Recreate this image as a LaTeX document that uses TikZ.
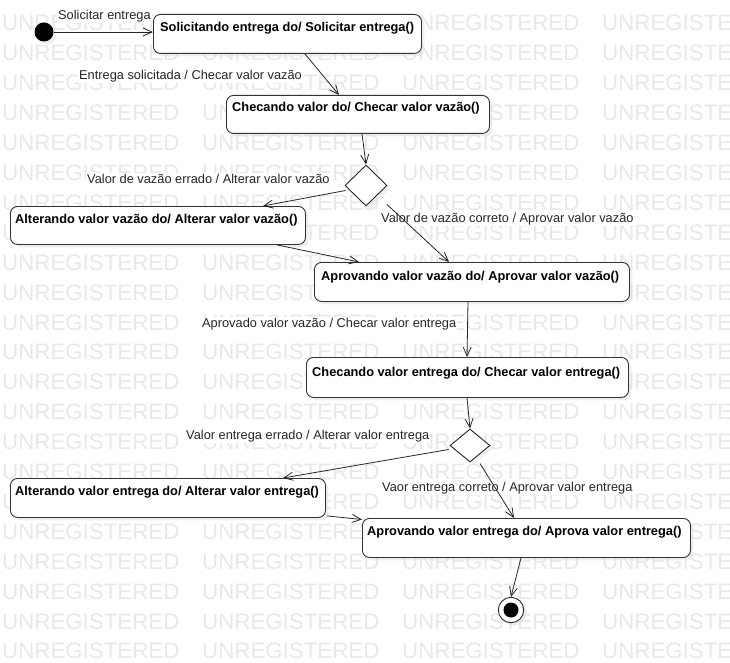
\documentclass[tikz,border=0pt]{standalone}
\usepackage{fontspec}
\setmainfont{Liberation Sans}
\usetikzlibrary{arrows.meta,shapes.geometric,shadows}
\begin{document}
\begin{tikzpicture}[x=1pt,y=-1pt,
  wm/.style={anchor=base west, inner sep=0, text=black!9, font=\fontsize{22.3}{24}\selectfont},
  shade/.style={drop shadow={shadow xshift=3pt, shadow yshift=-3pt, fill=black!13}},
  statebox/.style={draw=black!80, line width=0.9pt, fill=white, rounded corners=7pt,
    anchor=north west, inner sep=0, shade},
  stname/.style={anchor=base west, inner sep=0, font=\fontsize{12.8}{15}\selectfont\bfseries},
  choice/.style={diamond, draw=black!85, line width=0.9pt, fill=white, inner sep=0, shade},
  trig/.style={anchor=base west, fill=white, inner sep=1pt,
    font=\fontsize{12.8}{15}\selectfont, text=black!85},
  flow/.style={draw=black!85, line width=0.8pt, -{Straight Barb[length=9pt,width=8pt]}},
]
\useasboundingbox (0,0) rectangle (730,663);

% background watermark rows
\begin{scope}
  \clip (0,0) rectangle (730,663);
  \foreach \r in {0,...,21}
    \foreach \c in {0,...,3}
      \node[wm] (wm-\r-\c) at ({2+200*\c},{31+29.9*\r}) {UNREGISTERED};
\end{scope}

% transition labels
\node[trig] (l0)  at (57,19.3)   {Solicitar entrega};
\node[trig] (l1)  at (78,79.5)   {Entrega solicitada / Checar valor vazão};
\node[trig] (l3)  at (86,183.3)  {Valor de vazão errado / Alterar valor vazão};
\node[trig] (l5)  at (380,222.3) {Valor de vazão correto / Aprovar valor vazão};
\node[trig] (l6)  at (201,327.5) {Aprovado valor vazão / Checar valor entrega};
\node[trig] (l8)  at (185,439)   {Valor entrega errado / Alterar valor entrega};
\node[trig] (l10) at (381,491)   {Vaor entrega correto / Aprovar valor entrega};

% pseudo states
\node[circle, fill=black, minimum size=19, inner sep=0, shade] (init) at (44,32) {};
\node[circle, draw=black!85, line width=0.9pt, fill=white, minimum size=25.4, inner sep=0, shade] (fin) at (511,610) {};
\node[circle, fill=black, minimum size=15, inner sep=0] (findot) at (fin.center) {};

% decision points
\node[choice, minimum width=42, minimum height=41] (d1) at (366,185.5) {};
\node[choice, minimum width=40, minimum height=33] (d2) at (470,445.5) {};

% states
\node[statebox, minimum width=268, minimum height=39] (s1) at (153,14)  {};
\node[statebox, minimum width=263, minimum height=38] (s2) at (226,95)  {};
\node[statebox, minimum width=295, minimum height=38] (s3) at (10,206)  {};
\node[statebox, minimum width=315, minimum height=39] (s4) at (314,262) {};
\node[statebox, minimum width=322, minimum height=40] (s5) at (306,357) {};
\node[statebox, minimum width=315, minimum height=39] (s6) at (10,478)  {};
\node[statebox, minimum width=328, minimum height=39] (s7) at (362,518) {};

\node[stname] (s1t) at ([xshift=7,yshift=-18]s1.north west) {Solicitando entrega do/ Solicitar entrega()};
\node[stname] (s2t) at ([xshift=6,yshift=-17]s2.north west) {Checando valor do/ Checar valor vazão()};
\node[stname] (s3t) at ([xshift=5,yshift=-17]s3.north west) {Alterando valor vazão do/ Alterar valor vazão()};
\node[stname] (s4t) at ([xshift=7,yshift=-18]s4.north west) {Aprovando valor vazão do/ Aprovar valor vazão()};
\node[stname] (s5t) at ([xshift=6,yshift=-19]s5.north west) {Checando valor entrega do/ Checar valor entrega()};
\node[stname] (s6t) at ([xshift=5,yshift=-17]s6.north west) {Alterando valor entrega do/ Alterar valor entrega()};
\node[stname] (s7t) at ([xshift=5,yshift=-17.5]s7.north west) {Aprovando valor entrega do/ Aprova valor entrega()};

% transitions
\draw[flow] (init.east) -- (init.east -| s1.west);
\draw[flow] ([xshift=152]s1.south west) -- ([xshift=113]s2.north west);
\draw[flow] ([xshift=136]s2.south west) -- (d1.north);
\draw[flow] ([xshift=1,yshift=-5]d1.west) -- ([xshift=253]s3.north west);
\draw[flow] ([xshift=267]s3.south west) -- ([xshift=45]s4.north west);
\draw[flow] ([xshift=21,yshift=-19]d1.center) -- ([xshift=135]s4.north west);
\draw[flow] ([xshift=154]s4.south west) -- ([xshift=161]s5.north west);
\draw[flow] ([xshift=161]s5.south west) -- (d2.north);
\draw[flow] ([xshift=-1,yshift=-4]d2.west) -- ([xshift=273]s6.north west);
\draw[flow] ([xshift=1,yshift=2]s6.south east) -- ([yshift=-1.5]s7.north west);
\draw[flow] ([xshift=10,yshift=-18]d2.center) -- ([xshift=152]s7.north west);
\draw[flow] ([xshift=159]s7.south west) -- (fin.north);
\end{tikzpicture}
\end{document}
